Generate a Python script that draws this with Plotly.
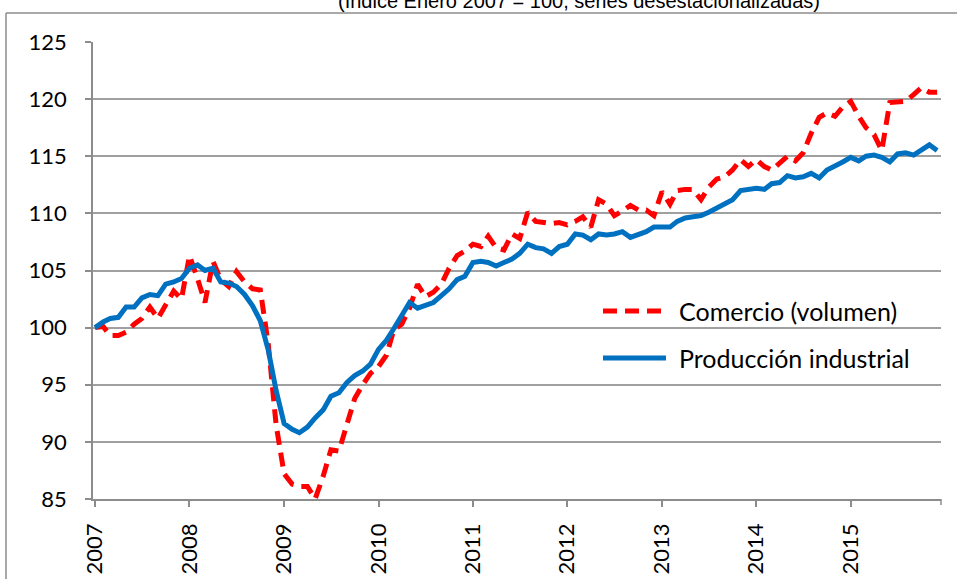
import pandas as pd
import plotly.graph_objects as go

# ---- data (monthly, Jan 2007 - Dec 2015) ----
months = pd.date_range("2007-01-01", periods=108, freq="MS")

comercio = [
    # 2007
    100.0, 100.1, 99.3, 99.3, 99.6, 100.3, 100.8, 101.8, 100.8, 102.0, 103.2, 102.5,
    # 2008
    106.3, 104.3, 102.2, 105.8, 104.2, 103.6, 104.9, 104.0, 103.4, 103.3, 98.5, 91.5,
    # 2009
    87.2, 86.3, 86.1, 86.1, 85.0, 87.0, 89.3, 89.2, 91.5, 93.8, 95.0, 96.0,
    # 2010
    96.6, 97.6, 99.8, 100.3, 101.7, 103.8, 102.7, 103.1, 103.8, 105.2, 106.3, 106.7,
    # 2011
    107.3, 107.1, 108.0, 107.0, 106.8, 108.2, 107.8, 110.1, 109.3, 109.2, 109.1, 109.2,
    # 2012
    109.0, 109.3, 109.7, 108.8, 111.2, 110.8, 109.8, 110.2, 110.7, 110.3, 110.3, 109.8,
    # 2013
    111.9, 110.8, 112.0, 112.1, 112.1, 111.2, 112.3, 113.0, 113.2, 113.8, 114.7, 114.1,
    # 2014
    114.7, 114.1, 113.8, 114.4, 115.0, 114.6, 115.3, 117.0, 118.4, 118.8, 118.5, 119.3,
    # 2015
    119.8, 118.5, 117.5, 116.9, 115.5, 119.7, 119.8, 119.8, 120.4, 121.0, 120.6, 120.6,
]

produccion = [
    # 2007
    100.0, 100.5, 100.8, 100.9, 101.8, 101.8, 102.6, 102.9, 102.8, 103.8, 104.0, 104.3,
    # 2008
    105.2, 105.5, 105.0, 105.2, 104.0, 103.9, 103.6, 102.9, 101.9, 100.6, 98.0, 94.5,
    # 2009
    91.6, 91.1, 90.8, 91.3, 92.1, 92.8, 94.0, 94.3, 95.2, 95.8, 96.2, 96.8,
    # 2010
    98.1, 98.9, 99.9, 101.0, 102.2, 101.7, 102.0, 102.2, 102.8, 103.4, 104.2, 104.5,
    # 2011
    105.7, 105.8, 105.7, 105.4, 105.7, 106.0, 106.5, 107.3, 107.0, 106.9, 106.5, 107.1,
    # 2012
    107.3, 108.2, 108.1, 107.7, 108.2, 108.1, 108.2, 108.4, 107.9, 108.1, 108.4, 108.8,
    # 2013
    108.8, 108.8, 109.3, 109.6, 109.7, 109.8, 110.1, 110.5, 110.8, 111.2, 112.0, 112.1,
    # 2014
    112.2, 112.1, 112.6, 112.7, 113.3, 113.1, 113.2, 113.5, 113.1, 113.8, 114.1, 114.5,
    # 2015
    114.9, 114.6, 115.0, 115.1, 114.9, 114.5, 115.2, 115.3, 115.1, 115.6, 116.0, 115.5,
]

years = list(range(2007, 2016))
year_ticks = [f"{y}-01-01" for y in years]
year_labels = [str(y) for y in years]
y_ticks = list(range(85, 126, 5))

series_names = ["Comercio (volumen)", "Producción industrial"]
title_text = "(Índice Enero 2007 = 100, series desestacionalizadas)"

RED = "#FF0000"
BLUE = "#0070C0"
GRID = "#A0A0A0"
FONT = "Lato"

fig = go.Figure()
fig.add_trace(go.Scatter(x=months, y=comercio, mode="lines", name=series_names[0],
                         line=dict(color=RED, width=5, dash="14px,8px"),
                         showlegend=False))
fig.add_trace(go.Scatter(x=months, y=produccion, mode="lines", name=series_names[1],
                         line=dict(color=BLUE, width=5),
                         showlegend=False))

# pixel helpers for plot area (l=93, r=941, top=42, bottom=499)
L, R, T, B = 93, 941, 42, 499
def px(x):
    return (x - L) / (R - L)
def py(y):
    return (B - y) / (B - T)

shapes = []
annotations = []
# custom legend
shapes.append(dict(type="line", xref="paper", yref="paper",
                   x0=px(603), x1=px(665), y0=py(311), y1=py(311),
                   line=dict(color=RED, width=5, dash="14px,8px")))
shapes.append(dict(type="line", xref="paper", yref="paper",
                   x0=px(603), x1=px(666), y0=py(358), y1=py(358),
                   line=dict(color=BLUE, width=5)))
annotations.append(dict(text=series_names[0], xref="paper", yref="paper",
                        x=px(677), y=py(311), xanchor="left", yanchor="middle",
                        showarrow=False, font=dict(family=FONT, size=25, color="black")))
annotations.append(dict(text=series_names[1], xref="paper", yref="paper",
                        x=px(677), y=py(358), xanchor="left", yanchor="middle",
                        showarrow=False, font=dict(family=FONT, size=25, color="black")))
# title (cut at top, as in the source image)
annotations.append(dict(text=title_text, xref="paper", yref="paper",
                        x=px(579), y=py(14), xanchor="center", yanchor="bottom",
                        showarrow=False,
                        font=dict(family="Liberation Sans, Arial", size=20, color="black")))
# outer frame
shapes.append(dict(type="line", xref="paper", yref="paper",
                   x0=px(6), x1=px(960), y0=py(13), y1=py(13),
                   line=dict(color="#8C8C8C", width=1.5)))
shapes.append(dict(type="line", xref="paper", yref="paper",
                   x0=px(6), x1=px(6), y0=py(13), y1=py(590),
                   line=dict(color="#8C8C8C", width=1.5)))
# end tick on x axis
shapes.append(dict(type="line", xref="paper", yref="paper",
                   x0=1, x1=1, y0=0, y1=py(505),
                   line=dict(color="#8C8C8C", width=1.5)))

fig.update_layout(
    width=957, height=579,
    margin=dict(l=L, r=957 - R, t=T, b=579 - B),
    paper_bgcolor="white", plot_bgcolor="white",
    shapes=shapes, annotations=annotations,
    showlegend=False,
)
fig.update_xaxes(
    type="date",
    range=["2006-12-24", "2015-12-16"],
    tickvals=year_ticks, ticktext=year_labels,
    tickangle=-90,
    tickfont=dict(family=FONT, size=22, color="black"),
    ticks="outside", ticklen=6, tickcolor="#8C8C8C", tickwidth=1.5,
    ticklabelstandoff=8,
    showline=True, linecolor="#8C8C8C", linewidth=1.5,
    showgrid=False, zeroline=False, automargin=False,
)
fig.update_yaxes(
    range=[85, 125],
    tickvals=y_ticks,
    tickfont=dict(family=FONT, size=22, color="black"),
    ticks="outside", ticklen=6, tickcolor="#8C8C8C", tickwidth=1.5,
    ticklabelstandoff=14,
    showline=True, linecolor="#8C8C8C", linewidth=1.5,
    showgrid=True, gridcolor=GRID, gridwidth=1.5,
    zeroline=False, automargin=False,
)

fig.write_html(
    "out.html",
    config={"displayModeBar": False},
    post_script="document.body.style.margin='0';document.body.style.padding='0';",
)
